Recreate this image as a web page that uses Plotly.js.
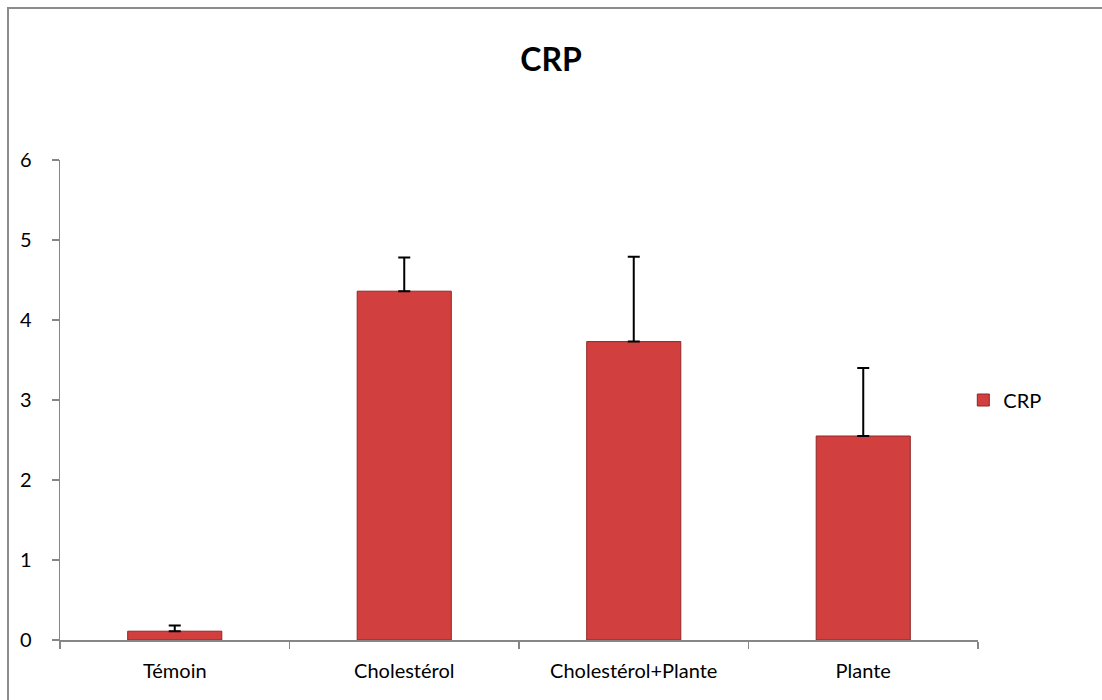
<!DOCTYPE html>
<html><head><meta charset="utf-8">
<script src="https://cdn.plot.ly/plotly-3.0.1.min.js"></script>
<style>
html,body{margin:0;padding:0;background:#fff;overflow:hidden;width:1102px;height:700px;}
#frame{position:absolute;left:7px;top:7px;width:1095px;height:693px;box-sizing:border-box;border-left:2px solid #8c8c8c;border-top:2px solid #8c8c8c;}
#chart{position:absolute;left:0;top:0;width:1102px;height:700px;}
</style></head>
<body>
<div id="frame"></div>
<div id="chart"></div>
<script>
const categories = ["Témoin", "Cholestérol", "Cholestérol+Plante", "Plante"];
const crpValues = [0.11, 4.36, 3.73, 2.55];
const crpErrors = [0.07, 0.42, 1.06, 0.85];
const yTicks = [0, 1, 2, 3, 4, 5, 6];

const trace = {
  type: 'bar',
  name: 'CRP',
  x: categories,
  y: crpValues,
  marker: {color: '#d23f3f', line: {color: '#8f2626', width: 1}},
  error_y: {type: 'data', symmetric: false, array: crpErrors, arrayminus: crpErrors.map(()=>0), color: '#000', thickness: 2, width: 6},
  showlegend: true
};

const layout = {
  width: 1102, height: 700,
  margin: {l: 60, r: 124, t: 160, b: 60},
  paper_bgcolor: 'rgba(0,0,0,0)', plot_bgcolor: 'rgba(0,0,0,0)',
  font: {family: 'Lato, Open Sans, sans-serif', size: 20, color: '#000'},
  title: {text: '<b>CRP</b>', x: 0.5, xanchor: 'center', y: 0.915, yanchor: 'middle', font: {size: 32, family: 'Lato, Open Sans, sans-serif', color: '#000'}},
  bargap: 0.59,
  xaxis: {showline: true, linecolor: '#868686', linewidth: 1.5, ticks: 'outside', tickson: 'boundaries', ticklen: 7, tickcolor: '#868686', tickwidth: 1.5, showgrid: false, zeroline: false, tickfont: {size: 20}, ticklabelstandoff: 12},
  yaxis: {range: [0, 6], tickvals: yTicks, showline: true, linecolor: '#868686', linewidth: 1.5, ticks: 'outside', ticklen: 7, tickcolor: '#868686', tickwidth: 1.5, showgrid: false, zeroline: false, tickfont: {size: 20}, ticklabelstandoff: 16},
  legend: {x: 0.984, xanchor: 'left', y: 0.5, yanchor: 'middle', font: {size: 20}, itemwidth: 30, bgcolor: 'rgba(0,0,0,0)'}
};

Plotly.newPlot('chart', [trace], layout, {displayModeBar: false, staticPlot: true});
</script>
</body></html>
